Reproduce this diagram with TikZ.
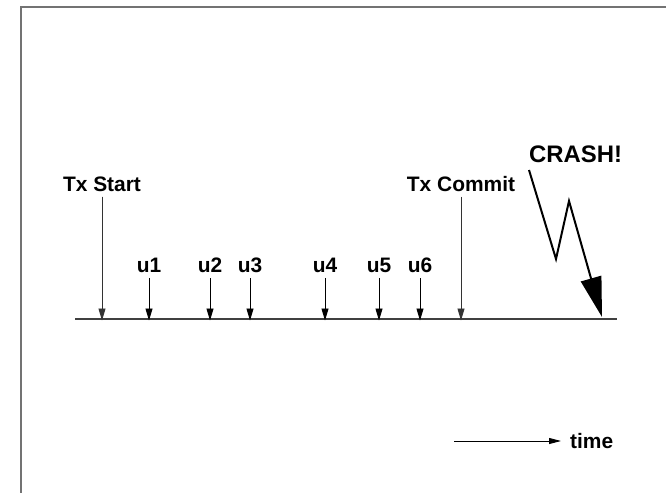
\documentclass[tikz,border=0pt]{standalone}
\usepackage{fontspec}
\setmainfont{Liberation Sans}
\usetikzlibrary{arrows, arrows.meta, positioning, calc}

\tikzset{
  lbl/.style={font=\bfseries\fontsize{21}{25}\selectfont, inner sep=0pt},
  tick/.style={-{Triangle[length=12bp, width=7bp]}, line width=0.9bp, shorten <=5bp},
  axis/.style={line width=1.4bp, draw=black!75},
}

\begin{document}
\begin{tikzpicture}[x=1bp, y=-1bp]
      \useasboundingbox (0,0) rectangle (666,493);
      % frame
      \draw[line width=2bp, draw=black!55] (21,494) -- (21,7) -- (667,7);

      % time line
      \coordinate (tl) at (75,319);
      \coordinate (tr) at (617,319);
      \draw[axis] (tl) -- (tr);

      \node[lbl] (start) at (102,184) {Tx Start};
      \node[lbl] (commit) at (461,184) {Tx Commit};
      \draw[tick, draw=black!80, fill=black!80] (start) -- ([yshift=-1.5bp]start |- tl);
      \draw[tick, draw=black!80, fill=black!80] (commit) -- ([yshift=-1.5bp]commit |- tl);

      % updates
      \foreach \n/\x in {1/149, 2/210, 3/250, 4/325, 5/379, 6/420} {
        \node[lbl] (u\n) at (\x,265.5) {u\n};
        \draw[tick] (u\n) -- ([yshift=-1.5bp]u\n |- tl);
      }

      % crash
      \node[lbl, font=\bfseries\fontsize{24}{28}\selectfont] (crash) at (575.5,154) {CRASH!};
      \coordinate (c0) at (529,170);
      \coordinate (c1) at (556,259);
      \coordinate (c2) at (569,201);
      \coordinate (c3) at (602,317);
      \draw[line width=2bp, line join=miter, -{Triangle[length=40bp, width=21bp]}]
        (c0) -- (c1) -- (c2) -- (c3);

      % time direction
      \node[lbl, anchor=west] (time) at (570,441) {time};
      \coordinate (t0) at (454,441);
      \draw[-{Triangle[length=12bp, width=6bp]}, line width=0.9bp] (t0) -- ([xshift=-9bp]time.west);
\end{tikzpicture}
\end{document}
